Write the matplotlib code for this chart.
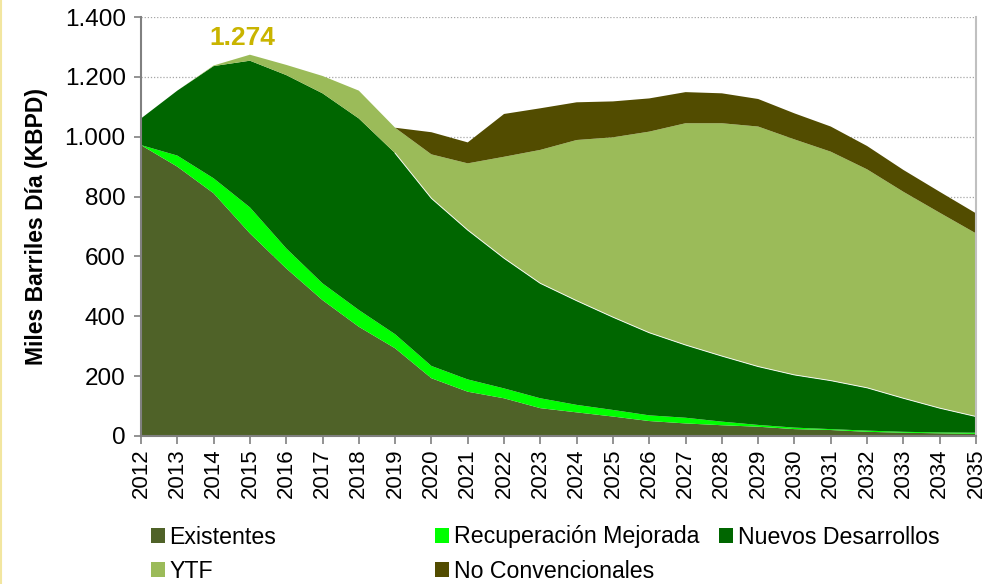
import matplotlib
matplotlib.use("Agg")
import matplotlib.pyplot as plt
from matplotlib.patches import Patch
from matplotlib.lines import Line2D
import numpy as np

plt.rcParams['font.family'] = ['Liberation Sans', 'DejaVu Sans']

# Data (KBPD)
years = list(range(2012, 2036))
existentes = [972, 900, 811, 677, 560, 454, 365, 293, 193, 148, 126, 93,
              79, 65, 50, 42, 36, 31, 23, 20, 14, 11, 9, 7]
recuperacion = [0, 37, 50, 87, 67, 56, 56, 47, 41, 41, 33, 33,
                25, 22, 19, 19, 12, 6, 5, 3, 4, 3, 3, 4]
nuevos = [89, 217, 375, 490, 579, 635, 640, 605, 560, 499, 435, 384,
          348, 310, 276, 243, 219, 195, 176, 162, 143, 112, 81, 54]
ytf = [0, 0, 2, 20, 34, 58, 93, 85, 147, 223, 339, 446,
       537, 601, 672, 741, 778, 802, 787, 765, 730, 690, 653, 612]
no_conv = [0, 0, 0, 0, 0, 0, 0, 0, 74, 70, 143, 139,
           126, 120, 111, 104, 100, 92, 87, 84, 78, 73, 70, 67]

labels = ['Existentes', 'Recuperación Mejorada', 'Nuevos Desarrollos',
          'YTF', 'No Convencionales']
colors = ['#4F6228', '#00FF00', '#006600', '#9BBB59', '#524C00']
peak_label = '1.274'

fig = plt.figure(figsize=(9.96, 5.84), dpi=100)
ax = fig.add_axes([141 / 996, 1 - 436 / 584, (976 - 141) / 996, (436 - 17) / 584])

ax.stackplot(years, existentes, recuperacion, nuevos, ytf, no_conv,
             colors=colors, linewidth=0)

# thin white edge between Nuevos Desarrollos and YTF
top_nuevos = np.array(existentes) + np.array(recuperacion) + np.array(nuevos)
ax.plot(years[7:], top_nuevos[7:], color='white', lw=0.7, alpha=0.9)

ax.set_xlim(2012, 2035)
ax.set_ylim(0, 1400)
ax.set_yticks(range(0, 1401, 200))
ax.set_yticklabels([f"{v:,}".replace(',', '.') for v in range(0, 1401, 200)],
                   fontsize=17.5)
ax.set_xticks(years)
ax.set_xticklabels([str(y) for y in years], rotation=90, fontsize=16)

ax.set_axisbelow(True)
ax.yaxis.grid(True, linestyle=(0, (1, 1.5)), color='#A6A6A6', lw=0.9)
ax.spines['top'].set_visible(False)
ax.spines['right'].set_color('#C0C0C0')
ax.spines['right'].set_linewidth(1.5)
ax.spines['left'].set_color('#808080')
ax.spines['left'].set_linewidth(1.5)
ax.spines['bottom'].set_color('#808080')
ax.spines['bottom'].set_linewidth(1.5)
ax.tick_params(axis='both', direction='out', color='#808080', width=1.2)
ax.tick_params(axis='y', length=5, pad=6)
ax.tick_params(axis='x', length=6, pad=3)

ax.set_ylabel('Miles Barriles Día (KBPD)', fontsize=16.5, fontweight='bold',
              labelpad=12)

ax.text(2014.8, 1330, peak_label, color='#C9B400', fontsize=19,
        fontweight='bold', ha='center', va='center')

# legend laid out row by row like the original
handles = [Patch(facecolor=c, edgecolor='none') for c in colors]
legend_pos = [(151, 537), (435, 537), (719, 537), (151, 571), (435, 571)]
for h, lab, (px, py) in zip(handles, labels, legend_pos):
    fig.legend([h], [lab], loc='center left',
               bbox_to_anchor=(px / 996, 1 - py / 584),
               frameon=False, fontsize=16.7, borderpad=0, borderaxespad=0,
               handlelength=0.6, handleheight=0.6, handletextpad=0.2)

# faint left frame line
fig.add_artist(Line2D([0.001, 0.001], [0, 1], color='#F2E6A0', lw=1.5,
                      transform=fig.transFigure))

fig.savefig('out.png', dpi=100)
